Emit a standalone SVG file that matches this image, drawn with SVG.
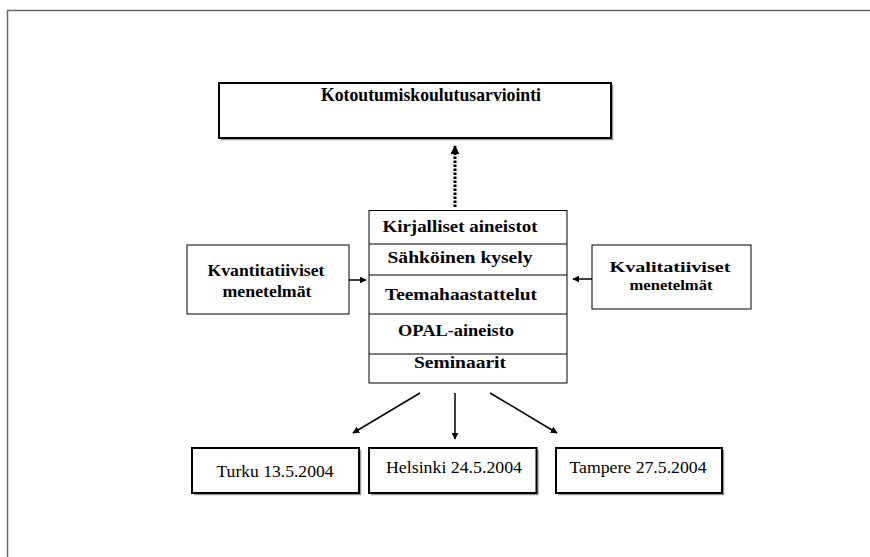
<svg xmlns="http://www.w3.org/2000/svg" width="870" height="557" viewBox="0 0 870 557">
<defs>
<style>
.b{font-family:"Liberation Serif","Times New Roman",serif;font-weight:bold;fill:#000;text-anchor:middle}
.r{font-family:"Liberation Serif","Times New Roman",serif;fill:#000;text-anchor:middle}
.box{fill:#fff;stroke:#000;stroke-width:1}
.tbox{fill:#fff;stroke:#000;stroke-width:2}
.sh{fill:none;stroke:#999;stroke-width:1.5}
.ln{stroke:#000;stroke-width:1.2;fill:none}
.con{stroke:#000;stroke-width:1.5;fill:none}
</style>
<marker id="ah" viewBox="0 0 10 10" refX="9" refY="5" markerWidth="7" markerHeight="7" markerUnits="userSpaceOnUse" orient="auto"><path d="M0,0 L10,5 L0,10 z" fill="#000"/></marker>
<marker id="ah2" viewBox="0 0 10 10" refX="9" refY="5" markerWidth="9" markerHeight="9" markerUnits="userSpaceOnUse" orient="auto"><path d="M0,0 L10,5 L0,10 z" fill="#000"/></marker>
</defs>
<rect width="870" height="557" fill="#fff"/>
<path d="M7.5,557 V10.5 H870" fill="none" stroke="#666" stroke-width="1.5"/>

<g id="title">
<path class="sh" d="M221,139.5 H612.5 V85"/>
<rect class="tbox" x="219" y="83" width="392" height="55"/>
<text class="b" x="431" y="101" font-size="19" textLength="220" lengthAdjust="spacingAndGlyphs">Kotoutumiskoulutusarviointi</text>
</g>

<g id="methods">
<rect class="box" x="369" y="210.5" width="198" height="172.5"/>
<line class="ln" x1="369" y1="244" x2="567" y2="244"/>
<line class="ln" x1="369" y1="275" x2="567" y2="275"/>
<line class="ln" x1="369" y1="314" x2="567" y2="314"/>
<line class="ln" x1="369" y1="354" x2="567" y2="354"/>
<text class="b" x="460" y="232" font-size="17.5" textLength="155" lengthAdjust="spacingAndGlyphs">Kirjalliset aineistot</text>
<text class="b" x="460" y="263" font-size="17.5" textLength="145" lengthAdjust="spacingAndGlyphs">Sähköinen kysely</text>
<text class="b" x="461" y="300" font-size="17.5" textLength="152" lengthAdjust="spacingAndGlyphs">Teemahaastattelut</text>
<text class="b" x="456" y="336" font-size="17.5" textLength="116" lengthAdjust="spacingAndGlyphs">OPAL-aineisto</text>
<text class="b" x="460" y="368" font-size="17.5" textLength="92" lengthAdjust="spacingAndGlyphs">Seminaarit</text>
</g>

<g id="kvant">
<rect class="box" x="187" y="245" width="162" height="69"/>
<text class="b" x="266" y="276" font-size="16.5" textLength="117" lengthAdjust="spacingAndGlyphs">Kvantitatiiviset</text>
<text class="b" x="267" y="297" font-size="16.5" textLength="89" lengthAdjust="spacingAndGlyphs">menetelmät</text>
</g>

<g id="kval">
<rect class="box" x="592" y="245" width="159" height="64"/>
<text class="b" x="670" y="272" font-size="15.5" textLength="121" lengthAdjust="spacingAndGlyphs">Kvalitatiiviset</text>
<text class="b" x="671" y="290" font-size="15.5" textLength="83" lengthAdjust="spacingAndGlyphs">menetelmät</text>
</g>

<g id="turku">
<path class="sh" d="M194,494.5 H360.5 V450"/>
<rect class="tbox" x="192" y="448" width="167" height="45"/>
<text class="r" x="275" y="477" font-size="16" textLength="117" lengthAdjust="spacingAndGlyphs">Turku 13.5.2004</text>
</g>

<g id="helsinki">
<path class="sh" d="M371,494.5 H538 V450"/>
<rect class="tbox" x="369" y="448" width="167.5" height="45"/>
<text class="r" x="454" y="473" font-size="16" textLength="136" lengthAdjust="spacingAndGlyphs">Helsinki 24.5.2004</text>
</g>

<g id="tampere">
<path class="sh" d="M558,494.5 H723.5 V450"/>
<rect class="tbox" x="556" y="448" width="166" height="45"/>
<text class="r" x="638" y="473" font-size="16" textLength="137" lengthAdjust="spacingAndGlyphs">Tampere 27.5.2004</text>
</g>

<g id="connectors">
<line x1="455" y1="207" x2="455" y2="146" stroke="#000" stroke-width="3" stroke-dasharray="2.5,1.5" marker-end="url(#ah2)"/>
<line class="con" x1="349" y1="280" x2="366" y2="280" marker-end="url(#ah)"/>
<line class="con" x1="592" y1="279" x2="573" y2="279" marker-end="url(#ah)"/>
<line class="con" x1="420" y1="393" x2="353" y2="433" marker-end="url(#ah)"/>
<line class="con" x1="455" y1="393" x2="455" y2="439" marker-end="url(#ah)"/>
<line class="con" x1="490" y1="393" x2="557" y2="433" marker-end="url(#ah)"/>
</g>
</svg>
